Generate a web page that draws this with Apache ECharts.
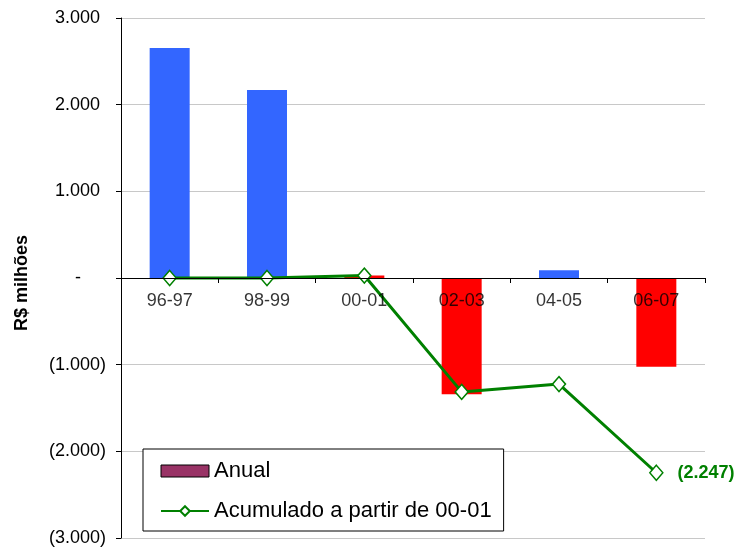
<!DOCTYPE html>
<html>
<head>
<meta charset="utf-8">
<script src="https://cdn.jsdelivr.net/npm/echarts@6/dist/echarts.min.js"></script>
<style>html,body{margin:0;padding:0;background:#fff}#c{width:738px;height:549px}</style>
</head>
<body>
<div id="c"></div>
<script>
const categories = ['96-97', '98-99', '00-01', '02-03', '04-05', '06-07'];
const anual = [2655, 2170, 28, -1342, 90, -1023];
const anualColors = ['#3366FF', '#3366FF', '#FF0000', '#FF0000', '#3366FF', '#FF0000'];
const acumulado = [0, 0, 28, -1314, -1224, -2247];
const lastLabel = '(2.247)';

const FONT = '"Liberation Sans", Arial, sans-serif';
function fmt(v) {
  if (v === 0) return '{z|-}';
  const s = Math.abs(v).toFixed(0).replace(/\B(?=(\d{3})+(?!\d))/g, '.');
  return v < 0 ? '{n|(' + s + ')}' : '{n|' + s + '}{h|)}';
}

const chart = echarts.init(document.getElementById('c'));
chart.setOption({
  animation: false,
  textStyle: { fontFamily: FONT },
  grid: { left: 121, right: 33, top: 18, bottom: 11, containLabel: false, outerBoundsMode: 'none' },
  legend: {
    orient: 'vertical',
    left: 143, top: 449,
    backgroundColor: '#fff',
    borderColor: '#000', borderWidth: 1,
    padding: [11, 12, 9, 17],
    itemGap: 18,
    itemWidth: 48, itemHeight: 12,
    textStyle: { fontFamily: FONT, fontSize: 22, color: '#000' },
    data: [
      { name: 'Anual', icon: 'rect', itemStyle: { color: '#993366', borderColor: '#000', borderWidth: 1 } },
      { name: 'Acumulado a partir de 00-01' }
    ],
    z: 20
  },
  xAxis: {
    type: 'category',
    data: categories,
    z: 10,
    axisLine: { onZero: true, lineStyle: { color: '#000', width: 1 } },
    axisTick: { show: true, alignWithLabel: false, length: 5, lineStyle: { color: '#000' } },
    axisLabel: { show: false },
    splitLine: { show: false }
  },
  yAxis: {
    type: 'value',
    min: -3000, max: 3000, interval: 1000,
    name: 'R$ milhões',
    nameLocation: 'middle',
    nameGap: 90,
    nameRotate: 90,
    nameTextStyle: { fontFamily: FONT, fontSize: 18, fontWeight: 'bold', color: '#000', padding: [0, 10, 0, 0] },
    axisLine: { show: true, lineStyle: { color: '#000' } },
    axisTick: { show: true, length: 5, lineStyle: { color: '#000' } },
    axisLabel: {
      fontFamily: FONT, fontSize: 18, color: '#000', margin: 15, formatter: fmt,
      rich: {
        n: { fontFamily: FONT, fontSize: 18, color: '#000' },
        h: { fontFamily: FONT, fontSize: 18, color: 'rgba(0,0,0,0)' },
        z: { fontFamily: FONT, fontSize: 18, color: '#000', padding: [0, 25, 0, 0] }
      }
    },
    splitLine: { show: true, lineStyle: { color: '#c8c8c8', width: 1 } }
  },
  series: [
    {
      name: 'Anual',
      type: 'bar',
      barWidth: 40,
      itemStyle: { color: '#993366' },
      data: anual.map((v, i) => ({ value: v, itemStyle: { color: anualColors[i] } })),
      z: 2
    },
    {
      name: 'Acumulado a partir de 00-01',
      type: 'line',
      data: acumulado.map((v, i) => i === acumulado.length - 1 ? {
        value: v,
        label: { show: true, position: 'right', distance: 14, formatter: lastLabel,
                 fontFamily: FONT, fontSize: 18, fontWeight: 'bold', color: '#008000' }
      } : v),
      symbol: 'diamond',
      symbolSize: [13, 15],
      showAllSymbol: true,
      lineStyle: { color: '#008000', width: 3 },
      itemStyle: { color: '#fff', borderColor: '#008000', borderWidth: 1.5 },
      z: 5
    },
    {
      name: 'catLabels',
      type: 'scatter',
      silent: true,
      symbolSize: 0,
      z: 10,
      data: categories.map(c => [c, 0]),
      label: {
        show: true, position: 'bottom', distance: 14,
        formatter: p => p.value[0],
        fontFamily: FONT, fontSize: 18, color: '#000'
      }
    }
  ]
});
</script>
</body>
</html>
